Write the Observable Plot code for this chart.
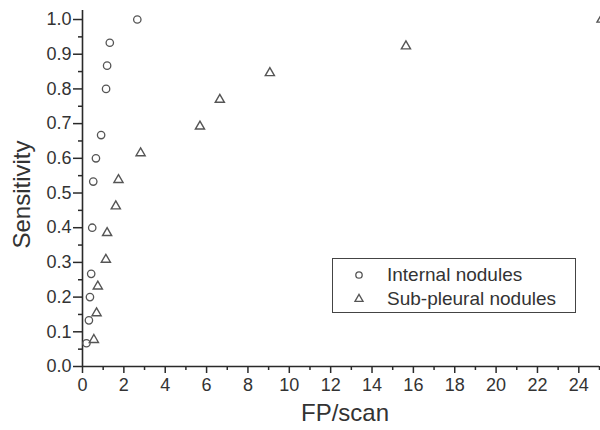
<!DOCTYPE html>
<html>
<head>
<meta charset="utf-8">
<script src="https://cdn.jsdelivr.net/npm/d3@7"></script>
<script src="https://cdn.jsdelivr.net/npm/@observablehq/plot@0.6"></script>
<style>
  html, body { margin: 0; padding: 0; background: #fff; }
  #wrap { position: relative; width: 600px; height: 430px; overflow: hidden; font-family: "Liberation Sans", Arial, sans-serif; }
  #legend { position: absolute; left: 332px; top: 258px; width: 244px; height: 55px; border: 1.3px solid #444; box-sizing: border-box; color: #333; font-size: 19px; }
  .item { position: absolute; left: 0; height: 22px; display: flex; align-items: center; }
  .item svg { position: absolute; left: 18px; }
  .item span { position: absolute; left: 54px; white-space: nowrap; }
</style>
</head>
<body>
<div id="wrap"></div>
<script>
// Data
const internalFP   = [0.19, 0.31, 0.36, 0.42, 0.47, 0.52, 0.65, 0.90, 1.14, 1.19, 1.32, 2.65];
const internalSens = [0.067, 0.133, 0.200, 0.267, 0.400, 0.533, 0.600, 0.667, 0.800, 0.867, 0.933, 1.000];
const subFP   = [0.55, 0.68, 0.74, 1.13, 1.19, 1.61, 1.74, 2.81, 5.68, 6.64, 9.06, 15.64, 25.1];
const subSens = [0.077, 0.154, 0.231, 0.308, 0.385, 0.462, 0.538, 0.615, 0.692, 0.769, 0.846, 0.923, 1.000];
const seriesNames = ["Internal nodules", "Sub-pleural nodules"];
const xTicks = [0, 2, 4, 6, 8, 10, 12, 14, 16, 18, 20, 22, 24];
const xMinor = [1, 3, 5, 7, 9, 11, 13, 15, 17, 19, 21, 23, 25];
const yTicks = [0, 0.1, 0.2, 0.3, 0.4, 0.5, 0.6, 0.7, 0.8, 0.9, 1.0];
const yMinor = [0.05, 0.15, 0.25, 0.35, 0.45, 0.55, 0.65, 0.75, 0.85, 0.95];
const xLabel = "FP/scan";
const yLabel = "Sensitivity";

const internal = internalFP.map((x, i) => ({x, y: internalSens[i]}));
const sub = subFP.map((x, i) => ({x, y: subSens[i]}));

const ink = "#2a2a2a";
const markInk = "#555";

const chart = Plot.plot({
  width: 600,
  height: 430,
  marginLeft: 82,
  marginRight: 1,
  marginTop: 10,
  marginBottom: 64,
  style: {fontFamily: '"Liberation Sans", Arial, sans-serif', color: ink, background: "#fff"},
  x: {domain: [0, 25]},
  y: {domain: [0, 1.026]},
  marks: [
    Plot.axisX({ticks: xMinor, tickSize: 4, tickFormat: () => "", label: null, stroke: ink, strokeWidth: 1.5}),
    Plot.axisX({ticks: xTicks, tickSize: 7, tickPadding: 5, fontSize: 18, label: null, stroke: ink, strokeWidth: 1.5, fill: "#333"}),
    Plot.axisY({ticks: yMinor, tickSize: 4, tickFormat: () => "", label: null, stroke: ink, strokeWidth: 1.5}),
    Plot.axisY({ticks: yTicks, tickSize: 9, tickPadding: 2, fontSize: 18, tickFormat: d3.format(".1f"), label: null, stroke: ink, strokeWidth: 1.5, fill: "#333"}),
    Plot.ruleX([0], {stroke: ink, strokeWidth: 1.6}),
    Plot.ruleY([0], {stroke: ink, strokeWidth: 1.6}),
    Plot.dot(internal, {x: "x", y: "y", symbol: "circle", r: 3.7, stroke: markInk, strokeWidth: 1.3, fill: "none"}),
    Plot.dot(sub, {x: "x", y: "y", symbol: "triangle", r: 3.4, stroke: markInk, strokeWidth: 1.4, fill: "none"}),
    Plot.text([yLabel], {frameAnchor: "left", textAnchor: "middle", rotate: -90, dx: -60, dy: 6, fontSize: 24, fill: "#333"}),
    Plot.text([xLabel], {frameAnchor: "bottom", textAnchor: "middle", dy: 54, dx: 4, fontSize: 24, fill: "#333"})
  ]
});

const wrap = document.getElementById("wrap");
wrap.appendChild(chart);

// Legend
const legend = document.createElement("div");
legend.id = "legend";
const symbols = [d3.symbolCircle, d3.symbolTriangle];
const sizes = [Math.PI * 3.2 * 3.2, Math.PI * 3.0 * 3.0];
seriesNames.forEach((name, i) => {
  const item = document.createElement("div");
  item.className = "item";
  item.style.top = (5 + i * 24) + "px";
  const path = d3.symbol(symbols[i], sizes[i])();
  item.innerHTML = `<svg width="16" height="16" viewBox="-8 -8 16 16"><path d="${path}" fill="none" stroke="${markInk}" stroke-width="1.3"/></svg><span>${name}</span>`;
  legend.appendChild(item);
});
wrap.appendChild(legend);
</script>
</body>
</html>
